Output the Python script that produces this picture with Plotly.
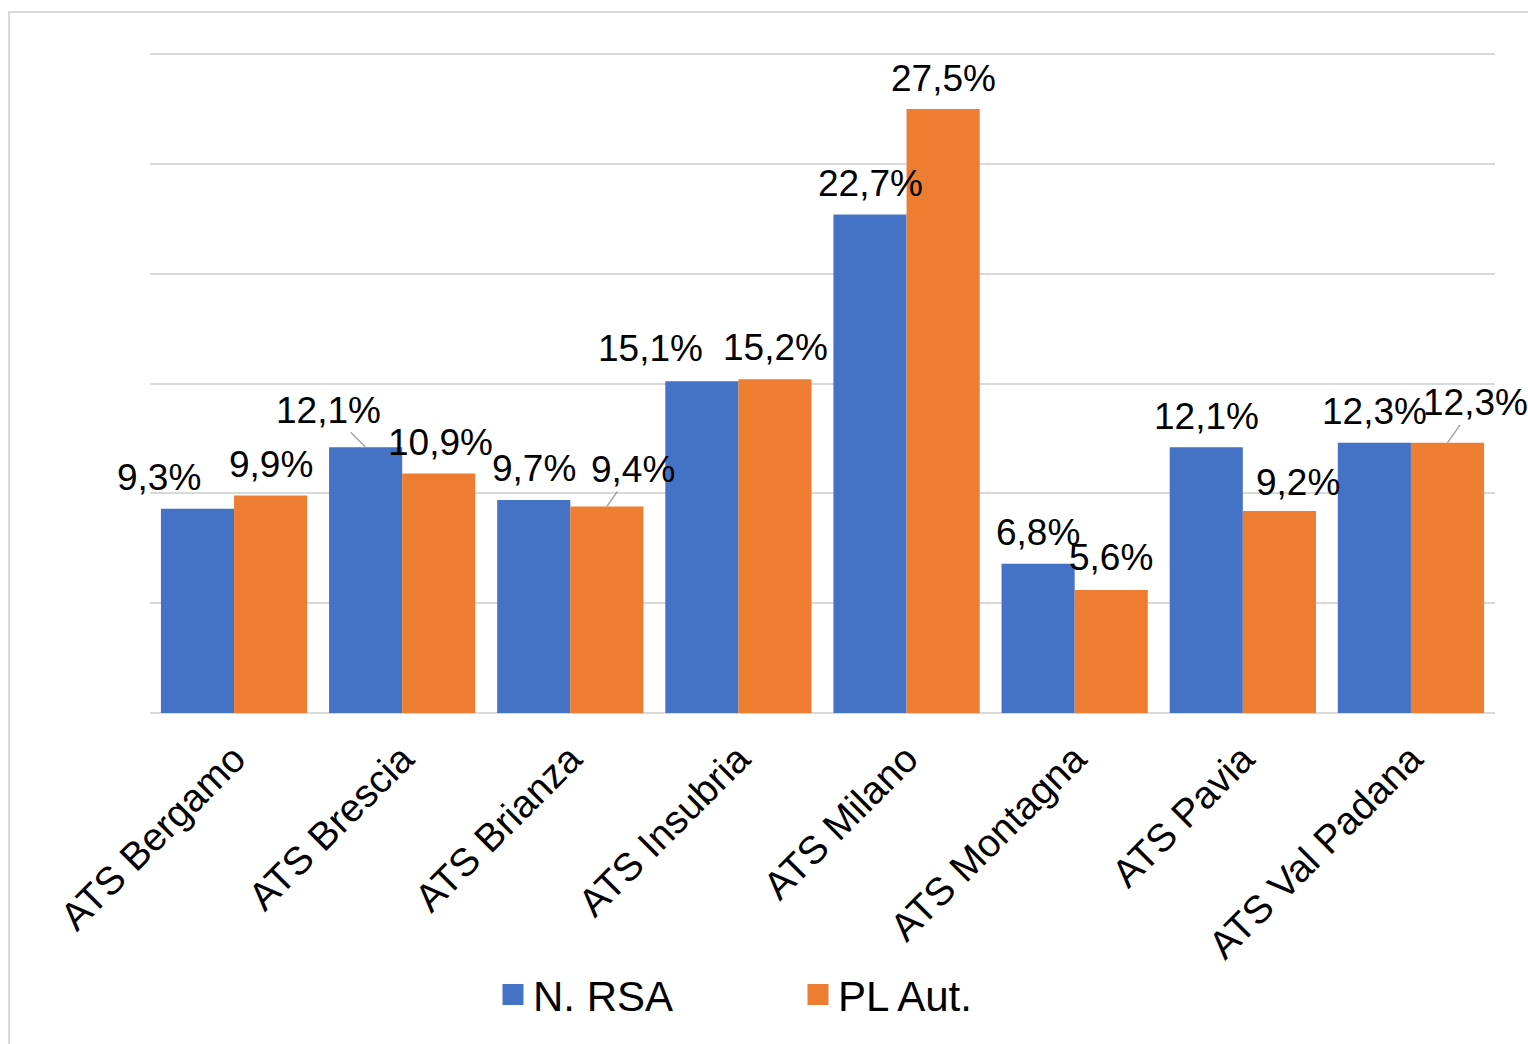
import plotly.graph_objects as go

categories = ["ATS Bergamo", "ATS Brescia", "ATS Brianza", "ATS Insubria",
              "ATS Milano", "ATS Montagna", "ATS Pavia", "ATS Val Padana"]
n_rsa = [9.3, 12.1, 9.7, 15.1, 22.7, 6.8, 12.1, 12.3]
pl_aut = [9.9, 10.9, 9.4, 15.2, 27.5, 5.6, 9.2, 12.3]
y_ticks = [0, 5, 10, 15, 20, 25, 30]

BLUE = "#4472C4"
ORANGE = "#ED7D31"
FONT = "Liberation Sans, Arial, Helvetica, sans-serif"

# label placement tweaks (pixels): (dx, dy, leader)
rsa_pos = [(-39, 0, False), (-37, 6, True), (0, 0, False), (-51, 2, False),
           (0, 0, False), (0, 0, False), (0, 0, False), (0, 0, False)]
pl_pos = [(0, 0, False), (2, 0, False), (26, 6, True), (1, 1, False),
          (0, 0, False), (0, 2, False), (19, -3, False), (28, 9, True)]


def fmt(v):
    return f"{v:.1f}".replace(".", ",") + "%"


fig = go.Figure()
fig.add_trace(go.Bar(x=categories, y=n_rsa, name="N. RSA", marker_color=BLUE,
                     marker_line_width=0, showlegend=False))
fig.add_trace(go.Bar(x=categories, y=pl_aut, name="PL Aut.", marker_color=ORANGE,
                     marker_line_width=0, showlegend=False))
# legend entries as square markers
fig.add_trace(go.Scatter(x=[categories[0]], y=[None], mode="markers", name="N. RSA",
                         marker=dict(symbol="square", size=16, color=BLUE,
                                     line=dict(color=BLUE, width=5))))
fig.add_trace(go.Scatter(x=[categories[0]], y=[None], mode="markers", name="PL Aut.",
                         marker=dict(symbol="square", size=16, color=ORANGE,
                                     line=dict(color=ORANGE, width=5))))

BAR_HALF = 36.5
for series, pos, side in ((n_rsa, rsa_pos, -1), (pl_aut, pl_pos, 1)):
    for cat, v, (dx, dy, leader) in zip(categories, series, pos):
        if leader:
            fig.add_annotation(x=cat, y=v, xref="x", yref="y",
                               xshift=side * BAR_HALF, text=fmt(v),
                               showarrow=True, arrowhead=0, arrowwidth=1.5,
                               arrowcolor="#a6a6a6", ax=dx, ay=-(31 + dy),
                               font=dict(family=FONT, size=37, color="black"))
        else:
            fig.add_annotation(x=cat, y=v, xref="x", yref="y",
                               xshift=side * BAR_HALF + dx, yshift=31 + dy,
                               yanchor="middle", text=fmt(v), showarrow=False,
                               font=dict(family=FONT, size=37, color="black"))

# outer chart border
fig.add_shape(type="rect", xref="paper", yref="paper",
              x0=(9 - 150) / 1345, x1=(1540 - 150) / 1345,
              y0=(713 - 1060) / 660, y1=(713 - 12) / 660,
              line=dict(color="#d9d9d9", width=2), fillcolor="rgba(0,0,0,0)",
              layer="below")

fig.update_layout(
    width=1528, height=1044,
    margin=dict(l=150, r=33, t=53, b=331, autoexpand=False),
    paper_bgcolor="white", plot_bgcolor="white",
    barmode="group", bargap=0.13, bargroupgap=0,
    font=dict(family=FONT, color="black"),
    showlegend=True,
    legend=dict(orientation="h", x=(493 - 150) / 1345, xanchor="left",
                y=-0.427, yanchor="middle",
                font=dict(family=FONT, size=42, color="black"),
                entrywidth=260, itemsizing="trace"),
    xaxis=dict(type="category", categoryarray=categories, categoryorder="array",
               range=[-0.5, len(categories) - 0.5],
               tickangle=-45, tickfont=dict(family=FONT, size=39, color="black"),
               showgrid=False, showline=False, ticks="", automargin=False,
               ticklabelstandoff=14),
    yaxis=dict(range=[0, 30.05], tickvals=y_ticks, showticklabels=False,
               showgrid=True, gridcolor="#d9d9d9", gridwidth=2, automargin=False,
               zeroline=True, zerolinecolor="#d9d9d9", zerolinewidth=2),
)

fig.write_html(
    "out.html",
    config={"displayModeBar": False},
    post_script="document.body.style.margin='0';"
                "document.documentElement.style.overflow='hidden';",
)
